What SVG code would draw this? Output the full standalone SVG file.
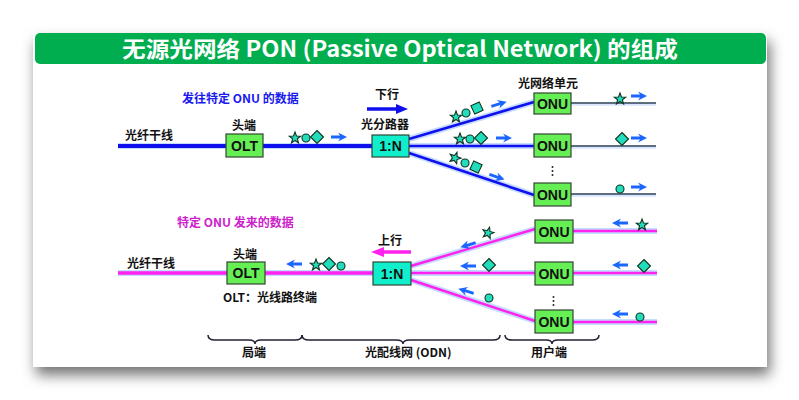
<svg xmlns="http://www.w3.org/2000/svg" xmlns:xlink="http://www.w3.org/1999/xlink" width="799" height="400" viewBox="0 0 799 400">
<style>
.cn{font-family:"Noto Sans CJK SC","Liberation Sans",sans-serif;font-weight:bold;}
.lbl{font-size:12px;fill:#111;}
.box{stroke:#334433;stroke-width:1.2;}
.olt{fill:#66ee55;}
.spl{fill:#11eecc;}
.bt{font-family:"Liberation Sans",Arial,sans-serif;font-weight:bold;font-size:14px;fill:#111;text-anchor:middle;}
.dn{stroke:#1010ee;stroke-width:2.6;fill:none;}
.dnw{stroke:#1010ee;stroke-width:4;fill:none;}
.halo{stroke:#c4dcff;stroke-width:6;fill:none;}
.up{stroke:#ff22ee;stroke-width:2.4;fill:none;}
.upw{stroke:#ff22ee;stroke-width:3.5;fill:none;}
.thin{stroke:#334455;stroke-width:1.5;fill:none;}
.sym{fill:#22ddbb;stroke:#113322;stroke-width:1.1;}
.brace{stroke:#223;stroke-width:1.5;fill:none;}
</style>
<defs>
<filter id="sh" x="-5%" y="-5%" width="112%" height="125%">
<feDropShadow dx="3" dy="8" stdDeviation="7" flood-color="#000" flood-opacity="0.55"/>
</filter>
<path id="ar" d="M-8,-1.4 L1,-1.4 L-1,-4.5 L8,0 L-1,4.5 L1,1.4 L-8,1.4 Z" fill="#1a66ff"/>
<polygon id="st" class="sym" points="0,-6 1.47,-2.02 5.71,-1.85 2.38,0.77 3.53,4.85 0,2.5 -3.53,4.85 -2.38,0.77 -5.71,-1.85 -1.47,-2.02"/>
<circle id="ci" class="sym" r="4"/>
<polygon id="di" class="sym" points="0,-6.5 6.5,0 0,6.5 -6.5,0"/>
</defs>
<rect x="0" y="0" width="799" height="400" fill="#fff"/>
<rect x="33" y="33" width="734" height="334" fill="#fff" filter="url(#sh)"/>
<g id="title">
<rect x="35" y="33" width="731" height="31" rx="5" fill="#00ad4f"/>
<text x="122" y="57" class="cn" font-size="22" fill="#fff" textLength="556" lengthAdjust="spacingAndGlyphs">无源光网络 PON (Passive Optical Network) 的组成</text>
</g>
<g id="connectors">
<line class="halo" x1="118" y1="146" x2="372" y2="146"/>
<line class="dnw" x1="118" y1="146" x2="372" y2="146"/>
<line class="halo" x1="409" y1="139" x2="534" y2="102"/>
<line class="halo" x1="409" y1="146" x2="534" y2="146"/>
<line class="halo" x1="409" y1="153" x2="534" y2="195"/>
<line class="dn" x1="409" y1="139" x2="534" y2="102"/>
<line class="dn" x1="409" y1="146" x2="534" y2="146"/>
<line class="dn" x1="409" y1="153" x2="534" y2="195"/>
<line x1="571" y1="104" x2="656" y2="104" stroke="#d8e6ff" stroke-width="3.5"/>
<line x1="571" y1="147" x2="656" y2="147" stroke="#d8e6ff" stroke-width="3.5"/>
<line x1="571" y1="195" x2="656" y2="195" stroke="#d8e6ff" stroke-width="3.5"/>
<line class="thin" x1="571" y1="103" x2="656" y2="103"/>
<line class="thin" x1="571" y1="146" x2="656" y2="146"/>
<line class="thin" x1="571" y1="194" x2="656" y2="194"/>
<line class="halo" x1="118" y1="273" x2="373" y2="273"/>
<line class="upw" x1="118" y1="273" x2="373" y2="273"/>
<line class="halo" x1="411" y1="266" x2="535" y2="229"/>
<line class="halo" x1="411" y1="273" x2="535" y2="273"/>
<line class="halo" x1="411" y1="280" x2="535" y2="321"/>
<line class="up" x1="411" y1="266" x2="535" y2="229"/>
<line class="up" x1="411" y1="273" x2="535" y2="273"/>
<line class="up" x1="411" y1="280" x2="535" y2="321"/>
<line class="halo" x1="573" y1="231" x2="657" y2="231" stroke-width="5"/>
<line class="halo" x1="573" y1="273" x2="657" y2="273" stroke-width="5"/>
<line class="halo" x1="573" y1="322" x2="657" y2="322" stroke-width="5"/>
<line class="up" x1="573" y1="231" x2="657" y2="231" stroke-width="2"/>
<line class="up" x1="573" y1="273" x2="657" y2="273" stroke-width="2"/>
<line class="up" x1="573" y1="322" x2="657" y2="322" stroke-width="2"/>
<line x1="367" y1="109" x2="398" y2="109" stroke="#1010ee" stroke-width="3.5"/>
<polygon points="396,104 408,109 396,114" fill="#1010ee"/>
<line x1="382" y1="252" x2="411" y2="252" stroke="#ff22ee" stroke-width="3.5"/>
<polygon points="384,247 371,252 384,257" fill="#ff22ee"/>
</g>
<g id="packets">
<use xlink:href="#st" transform="translate(295,138)"/>
<use xlink:href="#ci" transform="translate(306,138)"/>
<use xlink:href="#di" transform="translate(317,137)"/>
<use xlink:href="#ar" transform="translate(339,137)"/>
<use xlink:href="#st" transform="translate(456,117)"/>
<use xlink:href="#ci" transform="translate(466,113)"/>
<use xlink:href="#di" transform="translate(477,108) rotate(20)"/>
<use xlink:href="#ar" transform="translate(499,104) rotate(-17)"/>
<use xlink:href="#st" transform="translate(460,139)"/>
<use xlink:href="#ci" transform="translate(470,139)"/>
<use xlink:href="#di" transform="translate(481,138)"/>
<use xlink:href="#ar" transform="translate(504,138)"/>
<use xlink:href="#st" transform="translate(455,158) rotate(20)"/>
<use xlink:href="#ci" transform="translate(465,163)"/>
<use xlink:href="#di" transform="translate(476,167) rotate(-20)"/>
<use xlink:href="#ar" transform="translate(497,177) rotate(19)"/>
<use xlink:href="#st" transform="translate(620,99)"/>
<use xlink:href="#ar" transform="translate(639,96)"/>
<use xlink:href="#di" transform="translate(622,139)"/>
<use xlink:href="#ar" transform="translate(639,138)"/>
<use xlink:href="#ci" transform="translate(620,189)"/>
<use xlink:href="#ar" transform="translate(639,187)"/>
<use xlink:href="#ar" transform="translate(294,264) rotate(180)"/>
<use xlink:href="#st" transform="translate(316,265)"/>
<use xlink:href="#di" transform="translate(329,264)"/>
<use xlink:href="#ci" transform="translate(341,266)"/>
<use xlink:href="#st" transform="translate(488,233) rotate(15)"/>
<use xlink:href="#ar" transform="translate(468,245) rotate(163)"/>
<use xlink:href="#di" transform="translate(489,265)"/>
<use xlink:href="#ar" transform="translate(468,266) rotate(180)"/>
<use xlink:href="#ci" transform="translate(489,298)"/>
<use xlink:href="#ar" transform="translate(466,291) rotate(197)"/>
<use xlink:href="#ar" transform="translate(620,223) rotate(180)"/>
<use xlink:href="#st" transform="translate(642,225)"/>
<use xlink:href="#ar" transform="translate(620,265) rotate(180)"/>
<use xlink:href="#di" transform="translate(644,266)"/>
<use xlink:href="#ar" transform="translate(620,314) rotate(180)"/>
<use xlink:href="#ci" transform="translate(640,317)"/>
</g>
<g id="olt-down"><rect class="box olt" x="226" y="134" width="37" height="23"/><text class="bt" x="244.5" y="151">OLT</text></g>
<g id="splitter-down"><rect class="box spl" x="372" y="135" width="37" height="22"/><text class="bt" x="390.5" y="151">1:N</text></g>
<g id="onu-d1"><rect class="box olt" x="534" y="93" width="37" height="21"/><text class="bt" x="552.5" y="109">ONU</text></g>
<g id="onu-d2"><rect class="box olt" x="534" y="134" width="37" height="23"/><text class="bt" x="552.5" y="151">ONU</text></g>
<g id="onu-d3"><rect class="box olt" x="534" y="183" width="37" height="23"/><text class="bt" x="552.5" y="200">ONU</text></g>
<g id="olt-up"><rect class="box olt" x="227" y="262" width="38" height="22"/><text class="bt" x="246" y="278">OLT</text></g>
<g id="splitter-up"><rect class="box spl" x="373" y="262" width="38" height="23"/><text class="bt" x="392" y="279">1:N</text></g>
<g id="onu-u1"><rect class="box olt" x="535" y="220" width="38" height="23"/><text class="bt" x="554" y="237">ONU</text></g>
<g id="onu-u2"><rect class="box olt" x="535" y="262" width="38" height="23"/><text class="bt" x="554" y="279">ONU</text></g>
<g id="onu-u3"><rect class="box olt" x="535" y="310" width="38" height="23"/><text class="bt" x="554" y="327">ONU</text></g>
<g id="dots" fill="#223">
<circle cx="552.5" cy="167" r="1"/><circle cx="552.5" cy="171" r="1"/><circle cx="552.5" cy="175" r="1"/>
<circle cx="553.5" cy="297" r="1"/><circle cx="553.5" cy="301" r="1"/><circle cx="553.5" cy="305" r="1"/>
</g>
<g id="labels" class="cn">
<text x="182" y="103" font-size="12" fill="#1a1aee">发往特定 ONU 的数据</text>
<text x="375" y="99" class="lbl" font-size="13">下行</text>
<text x="125" y="140" class="lbl">光纤干线</text>
<text x="232" y="130" class="lbl">头端</text>
<text x="361" y="129" class="lbl">光分路器</text>
<text x="518" y="88" class="lbl">光网络单元</text>
<text x="177" y="227" font-size="12" fill="#cc22cc">特定 ONU 发来的数据</text>
<text x="378" y="245" class="lbl" font-size="13">上行</text>
<text x="127" y="268" class="lbl">光纤干线</text>
<text x="233" y="259" class="lbl">头端</text>
<text x="223" y="302" class="lbl">OLT：光线路终端</text>
<text x="242" y="357" class="lbl">局端</text>
<text x="365" y="357" class="lbl">光配线网 (ODN)</text>
<text x="531" y="357" class="lbl">用户端</text>
</g>
<g id="braces">
<path class="brace" d="M208,335 Q208,340 215,340 L249,340 Q255,340 255,344 Q255,340 261,340 L295,340 Q302,340 302,335"/>
<path class="brace" d="M302,335 Q302,340 309,340 L396,340 Q403,340 403,344 Q403,340 410,340 L493,340 Q500,340 500,335"/>
<path class="brace" d="M505,335 Q505,340 512,340 L546,340 Q552,340 552,344 Q552,340 558,340 L592,340 Q599,340 599,335"/>
</g>
</svg>
